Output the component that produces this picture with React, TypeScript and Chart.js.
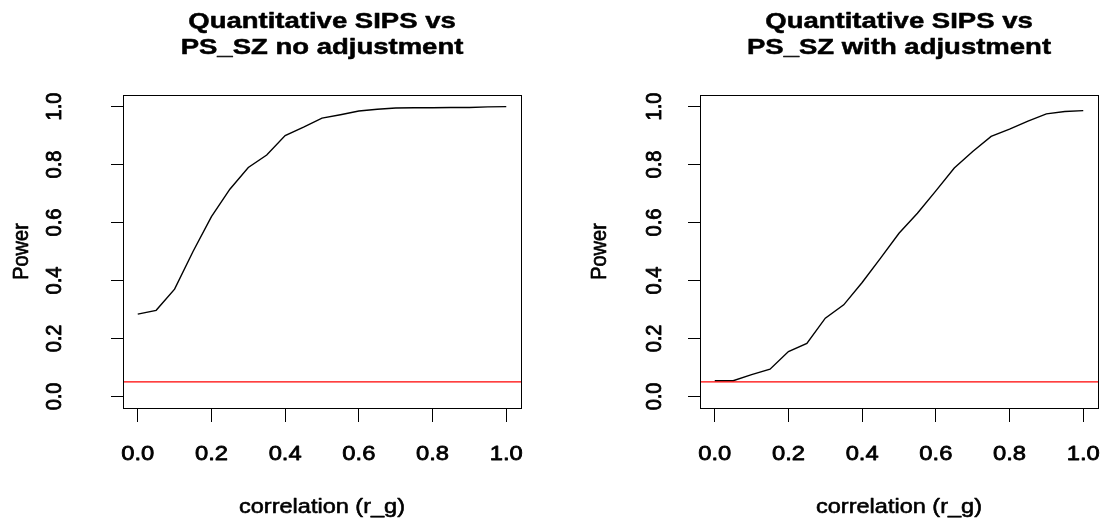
import React, { useEffect, useRef } from "react";
import { Chart, registerables } from "chart.js";

Chart.register(...registerables);

// ---- data ----
const correlation = [0, 0.05, 0.1, 0.15, 0.2, 0.25, 0.3, 0.35, 0.4, 0.45, 0.5, 0.55, 0.6, 0.65, 0.7, 0.75, 0.8, 0.85, 0.9, 0.95, 1.0];
const powerNoAdjustment = [0.284, 0.297, 0.37, 0.5, 0.62, 0.715, 0.79, 0.833, 0.9, 0.929, 0.96, 0.972, 0.985, 0.991, 0.995, 0.996, 0.996, 0.997, 0.997, 0.999, 1.0];
const powerWithAdjustment = [0.054, 0.054, 0.075, 0.094, 0.155, 0.183, 0.27, 0.316, 0.393, 0.477, 0.563, 0.632, 0.709, 0.788, 0.845, 0.897, 0.922, 0.95, 0.975, 0.983, 0.986];
const alphaLevel = 0.05;
const xTickValues = [0, 0.2, 0.4, 0.6, 0.8, 1.0];
const yTickValues = [0, 0.2, 0.4, 0.6, 0.8, 1.0];
const xTickLabels = ["0.0", "0.2", "0.4", "0.6", "0.8", "1.0"];
const yTickLabels = ["0.0", "0.2", "0.4", "0.6", "0.8", "1.0"];
const axisMin = -0.04;
const axisMax = 1.04;
const titleNoAdjustment = ["Quantitative SIPS vs", "PS_SZ no adjustment"];
const titleWithAdjustment = ["Quantitative SIPS vs", "PS_SZ with adjustment"];
const xAxisTitle = "correlation (r_g)";
const yAxisTitle = "Power";

const FONT = '"Liberation Sans", Arial, Helvetica, sans-serif';
const W = 552;
const H = 527;

type PanelCfg = {
  title: string[];
  values: number[];
  padding: { left: number; right: number; top: number; bottom: number };
  yTickGap: number;
  yTitleGap: number;
};

function paint(ctx: CanvasRenderingContext2D, text: string, font: string, stroke: number) {
  ctx.font = font;
  ctx.textAlign = "center";
  ctx.textBaseline = "alphabetic";
  ctx.fillStyle = "#000";
  ctx.fillText(text, 0, 0);
  if (stroke > 0) {
    ctx.strokeStyle = "#000";
    ctx.lineWidth = stroke;
    ctx.lineJoin = "round";
    ctx.strokeText(text, 0, 0);
  }
}

function drawText(ctx: CanvasRenderingContext2D, text: string, x: number, y: number, font: string, sx: number, stroke = 0) {
  ctx.save();
  ctx.translate(x, y);
  ctx.scale(sx, 1);
  paint(ctx, text, font, stroke);
  ctx.restore();
}

function drawRotated(ctx: CanvasRenderingContext2D, text: string, x: number, y: number, font: string, sx: number, stroke = 0) {
  ctx.save();
  ctx.translate(x, y);
  ctx.scale(sx, 1);
  ctx.rotate(-Math.PI / 2);
  paint(ctx, text, font, stroke);
  ctx.restore();
}

function Panel({ cfg, left }: { cfg: PanelCfg; left: number }) {
  const ref = useRef<HTMLCanvasElement | null>(null);
  useEffect(() => {
    const canvas = ref.current;
    if (!canvas) return;
    const decor = {
      id: "rdecor",
      afterDraw(chart: any) {
        const ctx: CanvasRenderingContext2D = chart.ctx;
        const a = chart.chartArea;
        const xs = chart.scales.x;
        const ys = chart.scales.y;
        // box
        ctx.save();
        ctx.strokeStyle = "#000";
        ctx.lineWidth = 1;
        ctx.strokeRect(Math.round(a.left) + 0.5, Math.round(a.top) + 0.5, Math.round(a.right - a.left), Math.round(a.bottom - a.top));
        ctx.restore();
        const cx = (a.left + a.right) / 2;
        const cy = (a.top + a.bottom) / 2;
        // title
        drawText(ctx, cfg.title[0], cx, 28, `bold 22px ${FONT}`, 1.25, 0.5);
        drawText(ctx, cfg.title[1], cx, 54, `bold 22px ${FONT}`, 1.25, 0.5);
        // x tick labels
        xTickValues.forEach((v, i) => {
          drawText(ctx, xTickLabels[i], xs.getPixelForValue(v), 460, `21px ${FONT}`, 1.13, 0.8);
        });
        // x title
        drawText(ctx, xAxisTitle, cx, 513, `21px ${FONT}`, 1.12, 0.6);
        // y tick labels
        yTickValues.forEach((v, i) => {
          drawRotated(ctx, yTickLabels[i], a.left - cfg.yTickGap, ys.getPixelForValue(v), `20px ${FONT}`, 1.08, 0.8);
        });
        // y title
        drawRotated(ctx, yAxisTitle, a.left - cfg.yTitleGap, cy, `20px ${FONT}`, 1.14, 0.6);
      },
    };
    const chart = new Chart(canvas, {
      type: "line",
      data: {
        datasets: [
          {
            data: [
              { x: axisMin, y: alphaLevel },
              { x: axisMax, y: alphaLevel },
            ],
            borderColor: "#ff0000",
            borderWidth: 1.2,
            pointRadius: 0,
            tension: 0,
          },
          {
            data: correlation.map((c, i) => ({ x: c, y: cfg.values[i] })),
            borderColor: "#000000",
            borderWidth: 1.4,
            pointRadius: 0,
            tension: 0,
          },
        ],
      },
      options: {
        animation: false,
        responsive: false,
        devicePixelRatio: 1,
        layout: { padding: cfg.padding },
        plugins: { legend: { display: false }, tooltip: { enabled: false }, title: { display: false } },
        scales: {
          x: {
            type: "linear",
            min: axisMin,
            max: axisMax,
            afterBuildTicks: (s: any) => {
              s.ticks = xTickValues.map((v) => ({ value: v }));
            },
            ticks: { display: false },
            grid: { drawOnChartArea: false, drawTicks: true, tickLength: 14, color: "#000", lineWidth: 1 },
            border: { display: false },
          },
          y: {
            type: "linear",
            min: axisMin,
            max: axisMax,
            afterBuildTicks: (s: any) => {
              s.ticks = yTickValues.map((v) => ({ value: v }));
            },
            ticks: { display: false },
            grid: { drawOnChartArea: false, drawTicks: true, tickLength: 12, color: "#000", lineWidth: 1 },
            border: { display: false },
          },
        },
      },
      plugins: [decor],
    } as any);
    return () => chart.destroy();
  }, [cfg]);
  return (
    <canvas
      ref={ref}
      width={W}
      height={H}
      style={{ position: "absolute", left, top: 0, width: W, height: H, display: "block" }}
    />
  );
}

const leftCfg: PanelCfg = {
  title: titleNoAdjustment,
  values: powerNoAdjustment,
  padding: { left: 111, right: 31, top: 95, bottom: 105 },
  yTickGap: 62,
  yTitleGap: 95,
};

const rightCfg: PanelCfg = {
  title: titleWithAdjustment,
  values: powerWithAdjustment,
  padding: { left: 136, right: 6, top: 95, bottom: 105 },
  yTickGap: 39,
  yTitleGap: 94,
};

export default function App() {
  return (
    <div style={{ position: "absolute", left: 0, top: 0, width: 1104, height: 527, background: "#fff" }}>
      <Panel cfg={leftCfg} left={0} />
      <Panel cfg={rightCfg} left={552} />
    </div>
  );
}
